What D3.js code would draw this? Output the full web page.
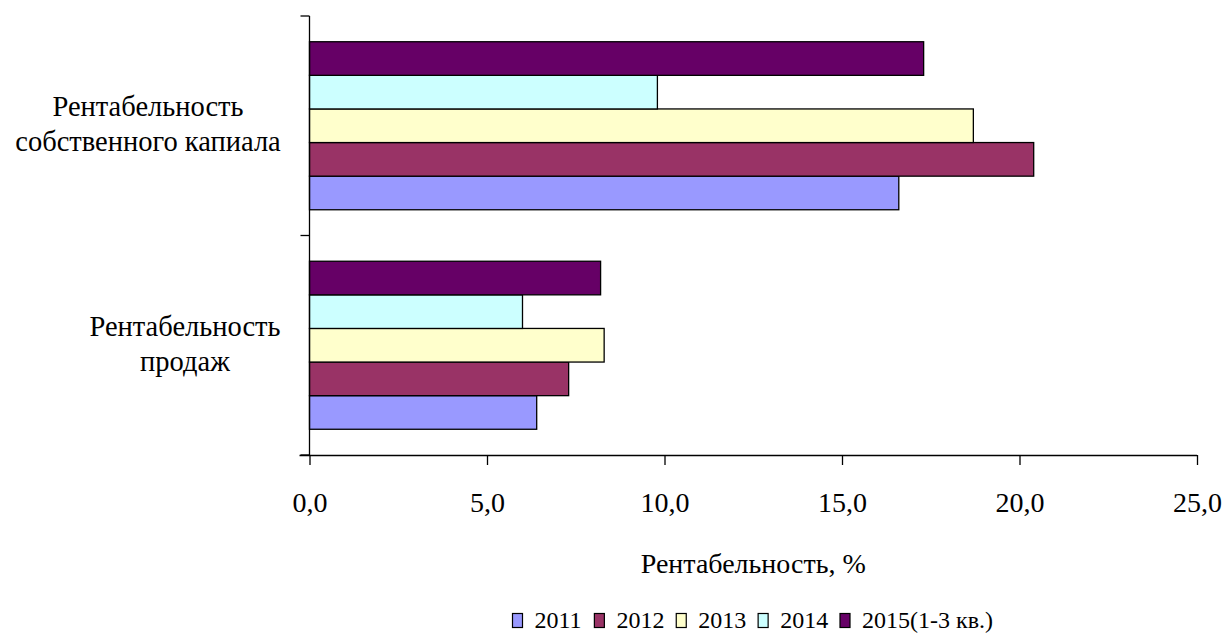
<!DOCTYPE html>
<html>
<head>
<meta charset="utf-8">
<script src="https://cdn.jsdelivr.net/npm/d3@7"></script>
</head>
<body style="margin:0">
<svg id="chart" width="1226" height="633"></svg>
<script>
// Categories, top to bottom (each label split into lines)
const categories = ["Рентабельность собственного капиала", "Рентабельность продаж"];
const categoryLines = [["Рентабельность", "собственного капиала"], ["Рентабельность", "продаж"]];

// Series (years) and their values, % — order follows the categories above
const seriesNames = ["2011", "2012", "2013", "2014", "2015(1-3 кв.)"];
const seriesColors = ["#9999FF", "#993366", "#FFFFCC", "#CCFFFF", "#660066"];
const values2011 = [16.6, 6.4];
const values2012 = [20.4, 7.3];
const values2013 = [18.7, 8.3];
const values2014 = [9.8, 6.0];
const values2015 = [17.3, 8.2];
const seriesValues = [values2011, values2012, values2013, values2014, values2015];

const xTicks = [0, 5, 10, 15, 20, 25];
const xTitle = "Рентабельность, %";

const FONT = "'Liberation Serif'";

const svg = d3.select("#chart");
const plot = { left: 309.5, right: 1197, top: 16, bottom: 455 };

const x = d3.scaleLinear().domain([0, 25]).range([plot.left, plot.right]);
const y = d3.scaleBand().domain(categories).range([plot.top, plot.bottom]).padding(0);
// Within each category the first year sits at the bottom
const ySeries = d3.scaleBand()
  .domain(seriesNames.slice().reverse())
  .range([0, y.bandwidth()])
  .paddingInner(0)
  .paddingOuter(0.766);

const fmt = v => d3.format(".1f")(v).replace(".", ",");

// Bars
const rows = [];
seriesNames.forEach((s, si) => {
  categories.forEach((c, ci) => {
    rows.push({ series: s, color: seriesColors[si], cat: c, value: seriesValues[si][ci] });
  });
});

svg.append("g").selectAll("rect").data(rows).join("rect")
  .attr("x", x(0))
  .attr("y", d => y(d.cat) + ySeries(d.series))
  .attr("width", d => x(d.value) - x(0))
  .attr("height", ySeries.bandwidth())
  .attr("fill", d => d.color)
  .attr("stroke", "#000")
  .attr("stroke-width", 1.3);

// X axis
const xAxis = svg.append("g")
  .attr("transform", `translate(0,${plot.bottom})`)
  .call(d3.axisBottom(x).tickValues(xTicks).tickFormat(fmt).tickSizeInner(10).tickSizeOuter(0).tickPadding(27));
xAxis.attr("font-family", FONT).attr("font-size", 28);
xAxis.select(".domain").attr("stroke", "#000").attr("stroke-width", 1.3)
  .attr("d", `M${plot.left - 10},0.5H${plot.right}`);
xAxis.selectAll(".tick line").attr("stroke", "#000").attr("stroke-width", 1.3);
xAxis.selectAll(".tick text").attr("fill", "#000").attr("font-family", FONT);

// Y axis: line with ticks at the category boundaries
const yAxis = svg.append("g");
yAxis.append("line")
  .attr("x1", plot.left).attr("x2", plot.left)
  .attr("y1", plot.top).attr("y2", plot.bottom)
  .attr("stroke", "#000").attr("stroke-width", 1.3);
const boundaries = categories.map(c => y(c)).concat([plot.bottom]);
yAxis.selectAll("line.tick").data(boundaries).join("line")
  .attr("class", "tick")
  .attr("x1", plot.left - 9).attr("x2", plot.left)
  .attr("y1", d => d).attr("y2", d => d)
  .attr("stroke", "#000").attr("stroke-width", 1.3);

// Category labels, two centred lines per category, left of the axis
const labelCentreX = [148, 185];
categories.forEach((c, ci) => {
  const cy = y(c) + y.bandwidth() / 2;
  svg.append("g").selectAll("text").data(categoryLines[ci]).join("text")
    .attr("font-family", FONT)
    .attr("font-size", 28.5)
    .attr("text-anchor", "middle")
    .attr("x", labelCentreX[ci])
    .attr("y", (d, li) => cy - 9.5 + li * 35)
    .text(d => d);
});

// Axis title
svg.append("text")
  .attr("x", (plot.left + plot.right) / 2)
  .attr("y", 573)
  .attr("text-anchor", "middle")
  .attr("font-family", FONT)
  .attr("font-size", 28)
  .text(xTitle);

// Legend: one swatch + label per series along a band scale
const legendX = d3.scalePoint().domain(seriesNames).range([512.5, 840]);
const items = svg.append("g").selectAll("g").data(seriesNames).join("g")
  .attr("transform", d => `translate(${legendX(d)},0)`);
items.append("rect")
  .attr("x", 0).attr("y", 613.5)
  .attr("width", 10).attr("height", 14)
  .attr("fill", (d, i) => seriesColors[i])
  .attr("stroke", "#000").attr("stroke-width", 1.2);
items.append("text")
  .attr("x", 22).attr("y", 627.5)
  .attr("font-family", FONT)
  .attr("font-size", 24)
  .text(d => d);
</script>
</body>
</html>
